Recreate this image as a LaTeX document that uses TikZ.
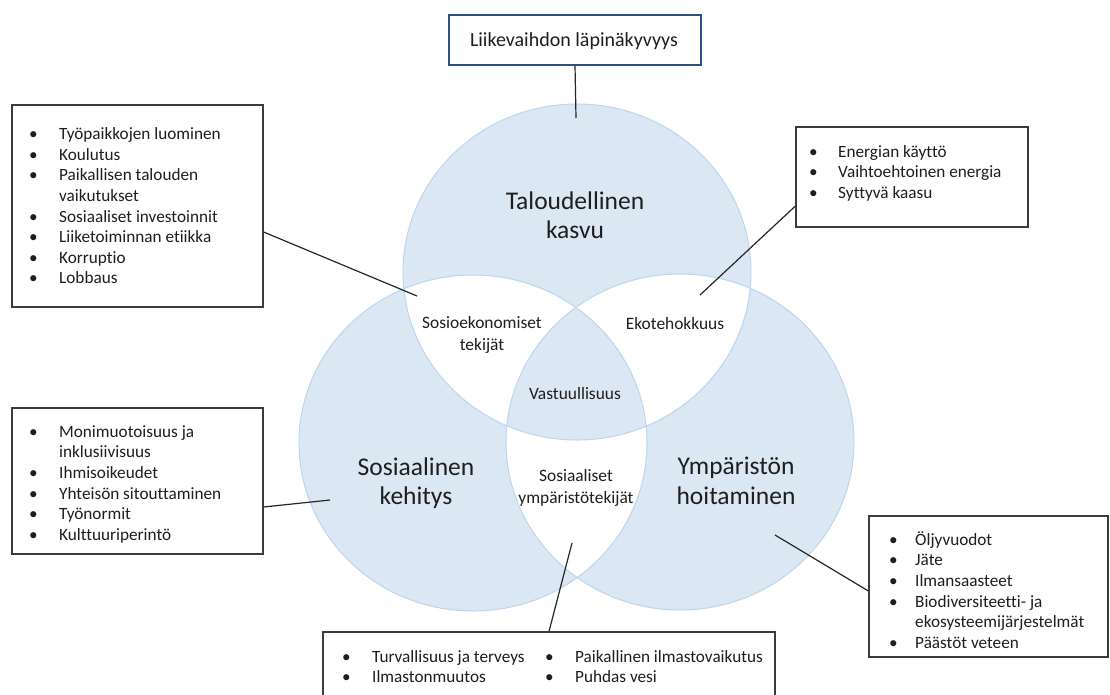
\documentclass[tikz,border=0pt]{standalone}
\usepackage{fontspec}
\setmainfont{Carlito}[Ligatures=NoCommon]
\definecolor{vfill}{HTML}{DCE7F4}
\definecolor{vline}{HTML}{BFD5EE}
\definecolor{txt}{HTML}{1E1E1E}
\definecolor{boxline}{HTML}{3C3C3C}
\definecolor{topline}{HTML}{2F4F8A}
\newcommand{\lfont}{\fontsize{17.2}{20.6}\selectfont}
\begin{document}
\begin{tikzpicture}[x=1pt,y=-1pt,
  listbox/.style={draw=boxline,line width=1.2pt,fill=white,rectangle,inner sep=0pt},
  listtext/.style={anchor=north west,inner sep=0pt,text=txt,font=\lfont},
  biglabel/.style={align=center,text=txt,font=\fontsize{25.5}{29.5}\selectfont,inner sep=0pt},
  smalllabel/.style={align=center,text=txt,font=\fontsize{17.4}{21.5}\selectfont,inner sep=0pt},
  conn/.style={draw=black!85,line width=1.2pt}]
\useasboundingbox (0,0) rectangle (1110,694);
\fill[white] (0,0) rectangle (1110,694);
% Venn
\path[fill=vfill,even odd rule]
  (577,272) ellipse [x radius=174pt,y radius=168pt]
  (473,443) ellipse [x radius=174pt,y radius=168pt]
  (680,442) ellipse [x radius=174pt,y radius=168pt];
\draw[vline,line width=1pt] (577,272) ellipse [x radius=174pt,y radius=168pt];
\draw[vline,line width=1pt] (473,443) ellipse [x radius=174pt,y radius=168pt];
\draw[vline,line width=1pt] (680,442) ellipse [x radius=174pt,y radius=168pt];
% labels
\node[biglabel] (tal) at (575,215) {Taloudellinen\\kasvu};
\node[biglabel] (sos) at (416,483) {Sosiaalinen\\kehitys};
\node[biglabel] (ymp) at (736,481) {Ympäristön\\hoitaminen};
\node[smalllabel] (soek) at (482,335) {Sosioekonomiset\\tekijät};
\node[smalllabel] (eko) at (675,324) {Ekotehokkuus};
\node[smalllabel] (vast) at (575,394) {Vastuullisuus};
\node[smalllabel] (sosymp) at (576,488) {Sosiaaliset\\ympäristötekijät};
% anchor points
\coordinate (pTop) at (576,118);
\coordinate (pSoek) at (417,296);
\coordinate (pEko) at (700,295);
\coordinate (pSos) at (330,500);
\coordinate (pYmp) at (775,535);
\coordinate (pSy) at (572,543);
% boxes
\node[listbox,draw=topline,minimum width=252pt,minimum height=50pt] (topbox) at (575,40) {};
\node[text=txt,font=\fontsize{20}{24}\selectfont,inner sep=0pt] (toptext) at (574,41) {Liikevaihdon läpinäkyvyys};
\node[listbox,minimum width=251pt,minimum height=202pt] (ltbox) at (137.5,206) {};
\node[listtext] (lttext) at (29,125.1) {\begin{tabular}{@{}p{30pt}@{}l@{}}
\textbullet & Työpaikkojen luominen\\
\textbullet & Koulutus\\
\textbullet & Paikallisen talouden\\
 & vaikutukset\\
\textbullet & Sosiaaliset investoinnit\\
\textbullet & Liiketoiminnan etiikka\\
\textbullet & Korruptio\\
\textbullet & Lobbaus
\end{tabular}};
\node[listbox,minimum width=232pt,minimum height=100pt] (rtbox) at (912,177) {};
\node[listtext] (rttext) at (809,142.6) {\begin{tabular}{@{}p{29pt}@{}l@{}}
\textbullet & Energian käyttö\\
\textbullet & Vaihtoehtoinen energia\\
\textbullet & Syttyvä kaasu
\end{tabular}};
\node[listbox,minimum width=251pt,minimum height=146pt] (lmbox) at (137.5,481) {};
\node[listtext] (lmtext) at (29,422.6) {\begin{tabular}{@{}p{30pt}@{}l@{}}
\textbullet & Monimuotoisuus ja\\
 & inklusiivisuus\\
\textbullet & Ihmisoikeudet\\
\textbullet & Yhteisön sitouttaminen\\
\textbullet & Työnormit\\
\textbullet & Kulttuuriperintö
\end{tabular}};
\node[listbox,minimum width=239pt,minimum height=141pt] (brbox) at (988.5,586.5) {};
\node[listtext] (brtext) at (889,530.6) {\begin{tabular}{@{}p{26pt}@{}l@{}}
\textbullet & Öljyvuodot\\
\textbullet & Jäte\\
\textbullet & Ilmansaasteet\\
\textbullet & Biodiversiteetti- ja\\
 & ekosysteemijärjestelmät\\
\textbullet & Päästöt veteen
\end{tabular}};
\node[listbox,minimum width=452pt,minimum height=70pt] (bbox) at (549,667) {};
\node[listtext] (btext) at (342,647.6) {\begin{tabular}{@{}p{30pt}@{}p{173pt}@{}p{30pt}@{}l@{}}
\textbullet & Turvallisuus ja terveys & \textbullet & Paikallinen ilmastovaikutus\\
\textbullet & Ilmastonmuutos & \textbullet & Puhdas vesi
\end{tabular}};
% connectors
\draw[conn] (topbox.south) -- (pTop);
\draw[conn] (ltbox.east |- 0,232) -- (pSoek);
\draw[conn] (rtbox.west |- 0,206) -- (pEko);
\draw[conn] (lmbox.east |- 0,507) -- (pSos);
\draw[conn] (brbox.west |- 0,591) -- (pYmp);
\draw[conn] (bbox.north -| 549,0) -- (pSy);
\end{tikzpicture}
\end{document}
